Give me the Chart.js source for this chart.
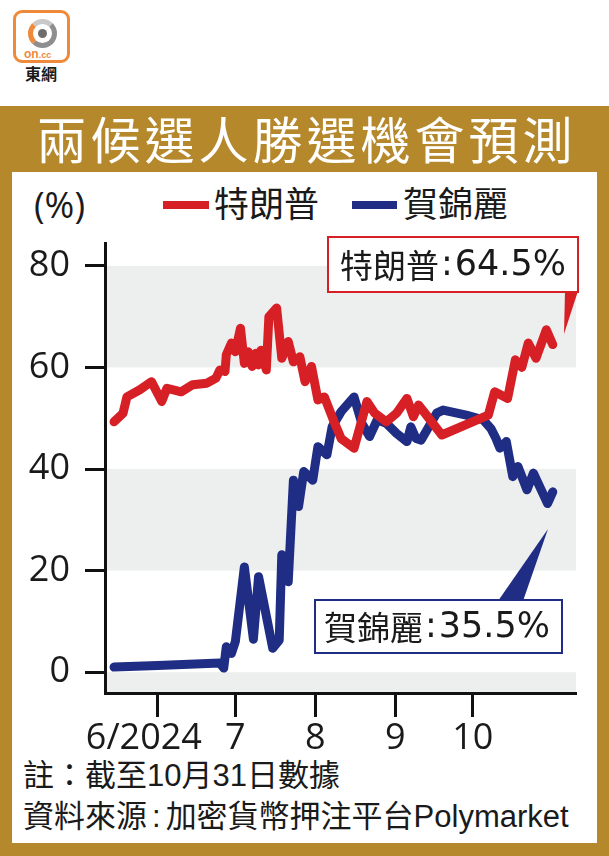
<!DOCTYPE html>
<html>
<head>
<meta charset="utf-8">
<script src="https://cdn.jsdelivr.net/npm/chart.js"></script>
<style>
  body { margin: 0; background: #fff; }
  #page { position: relative; width: 609px; height: 856px; overflow: hidden; background: #fff;
          font-family: "Liberation Sans", "Noto Sans CJK TC", sans-serif; color: #1a1a1a; }
  .abs { position: absolute; white-space: nowrap; }
  .cjk { font-family: "Liberation Sans", "Noto Sans CJK TC", sans-serif; }
</style>
</head>
<body>
<div id="page">
  <!-- logo -->
  <div class="abs" style="left:13px;top:10px;width:51px;height:47px;border:3px solid #EF8A3B;border-radius:9px;background:#fff"></div>
  <div class="abs" style="left:28px;top:19px;width:19px;height:19px;border:5px solid #8e8e8e;border-left-color:#EF8A3B;border-top-color:#c9c9c9;border-radius:50%"></div>
  <div class="abs" style="left:38px;top:29px;width:9px;height:9px;background:#6d6d6d;border-radius:50%"></div>
  <div class="abs" style="left:24px;top:47px;font:bold 12px 'Liberation Sans';color:#EF8A3B">on<span style="font-size:9px">.cc</span></div>
  <div class="abs cjk" style="left:25px;top:66px;font-size:16px;font-weight:bold;line-height:18px">東網</div>

  <!-- frame -->
  <div class="abs" style="left:0;top:106px;width:609px;height:750px;background:#B5882C"></div>
  <div class="abs cjk" style="left:0;top:117px;width:613px;text-align:center;font-size:50px;line-height:50px;letter-spacing:4px;color:#fff">兩候選人勝選機會預測</div>
  <div class="abs" style="left:12px;top:172px;width:585px;height:671px;background:#fff"></div>

  <!-- unit + legend -->
  <div class="abs" style="left:34px;top:186px;font:36px 'Open Sans';line-height:38px">(%)</div>
  <div class="abs" style="left:163px;top:201px;width:46px;height:8px;background:#D71F26"></div>
  <div class="abs cjk" style="left:214px;top:187px;font-size:35px;line-height:36px">特朗普</div>
  <div class="abs" style="left:352px;top:201px;width:45px;height:8px;background:#1F2D84"></div>
  <div class="abs cjk" style="left:403px;top:187px;font-size:35px;line-height:36px">賀錦麗</div>

  <!-- footer -->
  <div class="abs cjk" style="left:23px;top:760px;font-size:31px;line-height:32px">註：截至10月31日數據</div>
  <div class="abs cjk" style="left:23px;top:801px;font-size:31px;line-height:32px">資料來源<span style="margin:0 5px">:</span>加密貨幣押注平台Polymarket</div>

  <canvas id="chart" width="609" height="856" style="position:absolute;left:0;top:0"></canvas>
</div>

<script>
// days counted from 1 June 2024
const monthDays = [0, 30, 61, 92, 122];
const monthLabels = ['6/2024   ', '7', '8', '9', '10'];
const yTicks = [0, 20, 40, 60, 80];
const bandRanges = [[60, 80], [20, 40], [-20, 0]];

const trumpDays = [-17, -13.5, -12, -7, -2.5, 1.5, 3.5, 9, 13.5, 19, 22.5, 24, 26, 26.5, 28.5, 30, 32, 33.5, 35, 36.5,
  38, 39, 40, 42, 43, 46, 48, 50.5, 52.5, 55, 57, 59.5, 62, 64.5, 68.5, 71, 76, 81, 84, 88.5,
  92.5, 96.5, 99, 101, 103, 110, 128, 130.5, 135.5, 138.5, 141, 143.5, 146.5, 150.5, 153];
const trumpValues = [49.3, 51.0, 54.2, 55.6, 57.2, 53.3, 55.9, 55.2, 56.6, 56.9, 57.9, 59.5, 59.2, 62.5, 64.8, 63.1, 67.7, 60.8, 63.1, 60.2,
  62.8, 60.5, 63.4, 59.5, 70.0, 71.7, 61.8, 65.1, 61.1, 62.1, 57.2, 60.2, 53.6, 54.2, 49.0, 46.0, 44.1, 53.3, 51.0, 49.3,
  51.0, 53.9, 50.3, 52.6, 51.3, 46.7, 50.6, 55.2, 53.9, 61.5, 60.0, 64.8, 61.8, 67.4, 64.5];

const harrisDays = [-17, 0, 24, 25.5, 26.5, 28.5, 30, 33.5, 37, 39, 44.5, 47, 48, 50.5, 52.5, 54.5, 56.5, 60, 62, 65.5,
  67.5, 71, 76, 79, 82, 85, 88.5, 92.5, 96.5, 98, 100, 102, 108, 110.5, 119.5, 126, 129, 131, 132.5, 135,
  137.5, 139.5, 143, 145.5, 151, 153];
const harrisValues = [1.0, 1.3, 1.8, 0.8, 5.0, 3.7, 6.0, 20.7, 6.5, 18.8, 4.7, 6.3, 23.1, 17.8, 37.8, 32.6, 39.5, 37.8, 44.4, 42.8,
  48.3, 51.3, 54.2, 49.0, 46.4, 49.7, 49.0, 47.0, 45.4, 48.3, 46.0, 45.7, 51.0, 51.6, 50.6, 49.7, 48.0, 46.0, 44.1, 45.4,
  38.5, 40.5, 35.9, 39.2, 33.2, 35.5];

const RED = '#D71F26';
const NAVY = '#1F2D84';
const AXIS = '#111111';

// grey bands behind the lines
const bandsPlugin = {
  id: 'bands',
  beforeDraw(chart) {
    const { ctx, chartArea } = chart;
    const y = chart.scales.y;
    ctx.save();
    ctx.fillStyle = '#EDEEEE';
    bandRanges.forEach(([lo, hi]) => {
      const top = Math.max(y.getPixelForValue(hi), chartArea.top);
      const bottom = Math.min(y.getPixelForValue(lo), chartArea.bottom);
      if (bottom > top) ctx.fillRect(chartArea.left, top, chartArea.right - chartArea.left, bottom - top);
    });
    ctx.restore();
  }
};

// latest value call-outs
const calloutPlugin = {
  id: 'callouts',
  afterDraw(chart) {
    const { ctx } = chart;
    const boxes = [
      { name: '特朗普', value: trumpValues[trumpValues.length - 1], color: RED,
        box: [328, 237, 250, 55], tx: 340, wedge: [[565, 291], [578, 291], [564, 334]] },
      { name: '賀錦麗', value: harrisValues[harrisValues.length - 1], color: NAVY,
        box: [315, 600, 247, 53], tx: 324, wedge: [[498, 601], [523, 601], [548, 529]] }
    ];
    ctx.save();
    boxes.forEach(b => {
      ctx.fillStyle = b.color;
      ctx.beginPath();
      ctx.moveTo(b.wedge[0][0], b.wedge[0][1]);
      ctx.lineTo(b.wedge[1][0], b.wedge[1][1]);
      ctx.lineTo(b.wedge[2][0], b.wedge[2][1]);
      ctx.closePath();
      ctx.fill();
      const [x, y, w, h] = b.box;
      ctx.fillStyle = '#fff';
      ctx.fillRect(x, y, w, h);
      ctx.strokeStyle = b.color;
      ctx.lineWidth = 2;
      ctx.strokeRect(x, y, w, h);

      ctx.fillStyle = '#1a1a1a';
      ctx.textBaseline = 'middle';
      ctx.textAlign = 'left';
      const ty = y + h / 2 + 1;
      let tx = b.tx;
      ctx.font = '33px "Noto Sans CJK TC"';
      ctx.fillText(b.name, tx, ty);
      tx += ctx.measureText(b.name).width + 2;
      ctx.font = '35px "DejaVu Sans"';
      ctx.fillText(':', tx, ty);
      tx += ctx.measureText(':').width + 2;
      ctx.fillText(b.value + '%', tx, ty);
    });
    ctx.restore();
  }
};

Chart.defaults.font.family = "'Open Sans', sans-serif";
Chart.defaults.color = '#1a1a1a';

new Chart(document.getElementById('chart'), {
  type: 'line',
  data: {
    datasets: [
      {
        label: '特朗普',
        data: trumpDays.map((d, i) => ({ x: d, y: trumpValues[i] })),
        borderColor: RED,
        borderWidth: 9,
        pointRadius: 0,
        tension: 0,
        borderJoinStyle: 'round',
        borderCapStyle: 'round'
      },
      {
        label: '賀錦麗',
        data: harrisDays.map((d, i) => ({ x: d, y: harrisValues[i] })),
        borderColor: NAVY,
        borderWidth: 9,
        pointRadius: 0,
        tension: 0,
        borderJoinStyle: 'round',
        borderCapStyle: 'round'
      }
    ]
  },
  options: {
    responsive: false,
    animation: false,
    events: [],
    layout: { padding: { top: 243, right: 33, left: 0, bottom: 0 } },
    plugins: { legend: { display: false }, tooltip: { enabled: false } },
    scales: {
      x: {
        type: 'linear',
        min: -20.5,
        max: 162,
        afterBuildTicks: s => { s.ticks = monthDays.map(v => ({ value: v })); },
        afterFit: s => { s.height = 163; },
        ticks: {
          autoSkip: false,
          maxRotation: 0,
          padding: 0,
          font: { size: 36 },
          callback: (v, i) => monthLabels[i]
        },
        grid: { drawOnChartArea: false, drawTicks: true, tickLength: 24, tickWidth: 3, tickColor: AXIS },
        border: { display: true, color: AXIS, width: 3 }
      },
      y: {
        min: -4.1,
        max: 84.5,
        afterBuildTicks: s => { s.ticks = yTicks.map(v => ({ value: v })); },
        afterFit: s => { s.width = 105; },
        ticks: { padding: 15, font: { size: 36 } },
        grid: { drawOnChartArea: false, drawTicks: true, tickLength: 20, tickWidth: 3, tickColor: AXIS },
        border: { display: true, color: AXIS, width: 3 }
      }
    }
  },
  plugins: [bandsPlugin, calloutPlugin]
});
</script>
</body>
</html>
